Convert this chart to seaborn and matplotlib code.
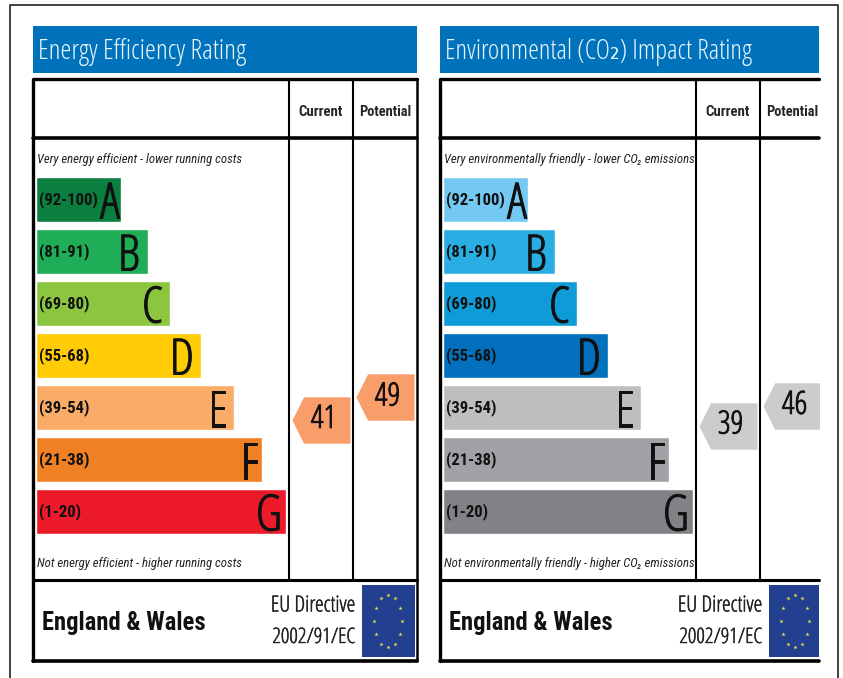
#! /usr/bin/env python3
'''
Energy and environmental rating panels, EPC style.
'''
from matplotlib.patches import Rectangle
from matplotlib.path import Path
import matplotlib.patheffects as pe
import matplotlib.pyplot as plt
import numpy as np
import seaborn as sns

# data
bands = ['A', 'B', 'C', 'D', 'E', 'F', 'G']
ranges = ['(92-100)', '(81-91)', '(69-80)', '(55-68)', '(39-54)', '(21-38)', '(1-20)']
bar_lengths = [85, 112, 134, 165, 198, 226, 250]
columns = ['Current', 'Potential']
energy_ratings = [41, 49]
impact_ratings = [39, 46]
energy_colors = ['#0b7f3f', '#1fae57', '#8cc63f', '#ffcc05', '#f9ab68', '#ef8023', '#ed1b2a']
impact_colors = ['#73c9f1', '#29ade3', '#0f9bd7', '#0270bd', '#bcbec0', '#a0a2a5', '#808285']

# settings
W, H = 843, 678
BLUE = '#0072bc'
THIN = {'family': ['Open Sans', 'DejaVu Sans'], 'stretch': 'condensed', 'weight': 300}
COND = {'family': ['Roboto Condensed', 'DejaVu Sans']}
sns.set_style('white')
plt.rcParams['font.family'] = ['Roboto Condensed', 'DejaVu Sans']
fig = plt.figure(figsize=(W / 100, H / 100), dpi=100)
renderer = fig.canvas.get_renderer()


def px_axes(x0, y0, x1, y1, z=1):
    ax = fig.add_axes([x0 / W, 1 - y1 / H, (x1 - x0) / W, (y1 - y0) / H], zorder=z)
    ax.axis('off')
    return ax


def fit(t, width):
    # scale font so the text comes out at the width seen in the picture
    t.set_fontsize(t.get_fontsize() * width / t.get_window_extent(renderer).width)
    return t


def heavier(t, lw=0.5):
    # the condensed light face is a bit too thin on its own
    t.set_path_effects([pe.withStroke(linewidth=lw, foreground=t.get_color())])
    return t


# page in pixel coords, for frames and labels
page = px_axes(0, 0, W, H, z=0)
page.set_xlim(0, W)
page.set_ylim(H, 0)
page.plot([10, 10, 838, 838], [H, 5, 5, H], color='#333333', lw=1.3)

# arrow marker, wider than tall
arrow = Path([(-1, 0), (-0.6, -0.8), (1, -0.8), (1, 0.8), (-0.6, 0.8), (-1, 0)], closed=True)


def panel(x, right, title, title_w, top_note, bottom_note, note_w, colors, ratings, arrow_color):
    page.add_patch(Rectangle((x, 26), right - x, 47, color=BLUE, lw=0))
    fit(page.text(x + 5, 52, title, color='#e8f6fb', va='center', **THIN), title_w)

    # table frame
    page.plot([x, x, right], [661, 79, 79], color='black', lw=2.4)
    page.plot([x, right], [137.5, 137.5], color='black', lw=2.6)
    page.plot([x, right], [579.5, 579.5], color='black', lw=2.2)
    page.plot([x, right], [661, 661], color='black', lw=2.6)
    if right - x > 380:
        page.plot([right, right], [79, 661], color='black', lw=1.8)
    page.plot([x + 256, x + 256], [79, 579], color='black', lw=1.5)
    page.plot([x + 320, x + 320], [79, 579], color='black', lw=1.5)
    fit(page.text(x + 288, 112, 'Current', fontweight='bold', ha='center', va='center', **COND), 44)
    fit(page.text(x + 352, 112, 'Potential', fontweight='bold', ha='center', va='center', **COND), 52)
    fit(page.text(x + 4, 159, top_note, style='italic', color='#222222', va='center', **COND), note_w)
    fit(page.text(x + 4, 564, bottom_note, style='italic', color='#222222', va='center', **COND), note_w)

    # bars
    ax = px_axes(x + 3, 173.5, x + 253, 537.5)
    sns.barplot(x=bar_lengths, y=bands, hue=bands, palette=colors, saturation=1,
                width=0.87, legend=False, ax=ax)
    ax.set_xlim(0, 250)
    ax.axis('off')
    insets = [1, 8, 7, 7, 7, 4, 4]
    for i, (r, b, v) in enumerate(zip(ranges, bands, bar_lengths)):
        ax.text(3, i, r, fontsize=12, fontweight='bold', color='#111111', va='center', **COND)
        heavier(ax.text(v - insets[i], i, b, fontsize=36, color='#111111', ha='right',
                        va='center_baseline', **THIN), 0.7)

    # rating arrows
    rate = px_axes(x + 256, 137, min(x + 384, right), 579, z=2)
    sns.scatterplot(x=columns, y=ratings, marker=arrow, s=(58 * 0.72) ** 2, color=arrow_color,
                    linewidth=0, ax=rate)
    rate.set_xlim(-0.5, -0.5 + (min(x + 384, right) - x - 256) / 64)
    rate.set_ylim(-15.8, 142)
    rate.axis('off')
    for i, v in enumerate(ratings):
        heavier(rate.text(i + 0.04, v, str(v), fontsize=23, color='#111111', ha='center',
                          va='center', **THIN), 0.6)

    # footer
    fit(page.text(x + 9, 623, 'England & Wales', fontweight='bold', color='#111111', va='center', **COND), 163)
    heavier(fit(page.text(x + 322, 606, 'EU Directive', color='#222222', ha='right', va='center', **THIN), 85), 0.3)
    heavier(fit(page.text(x + 322, 638, '2002/91/EC', color='#222222', ha='right', va='center', **THIN), 83), 0.3)

    # flag
    flag_r = min(x + 382, right)
    page.add_patch(Rectangle((x + 329, 585), flag_r - x - 329, 72, color='#22408f', lw=0))
    angles = np.arange(12) * np.pi / 6
    page.scatter(x + 355 + 14 * np.cos(angles), 621 + 26 * np.sin(angles), marker='*', s=10,
                 color='#e6e04a', linewidth=0, zorder=3)


panel(33, 417, 'Energy Efficiency Rating', 209, 'Very energy efficient - lower running costs',
      'Not energy efficient - higher running costs', 204, energy_colors, energy_ratings, '#f99d6b')
panel(440, 819, 'Environmental (CO\u2082) Impact Rating', 308,
      'Very environmentally friendly - lower CO\u2082 emissions',
      'Not environmentally friendly - higher CO\u2082 emissions', 251, impact_colors, impact_ratings, '#cbcccd')

fig.savefig('out.png', dpi=100)
